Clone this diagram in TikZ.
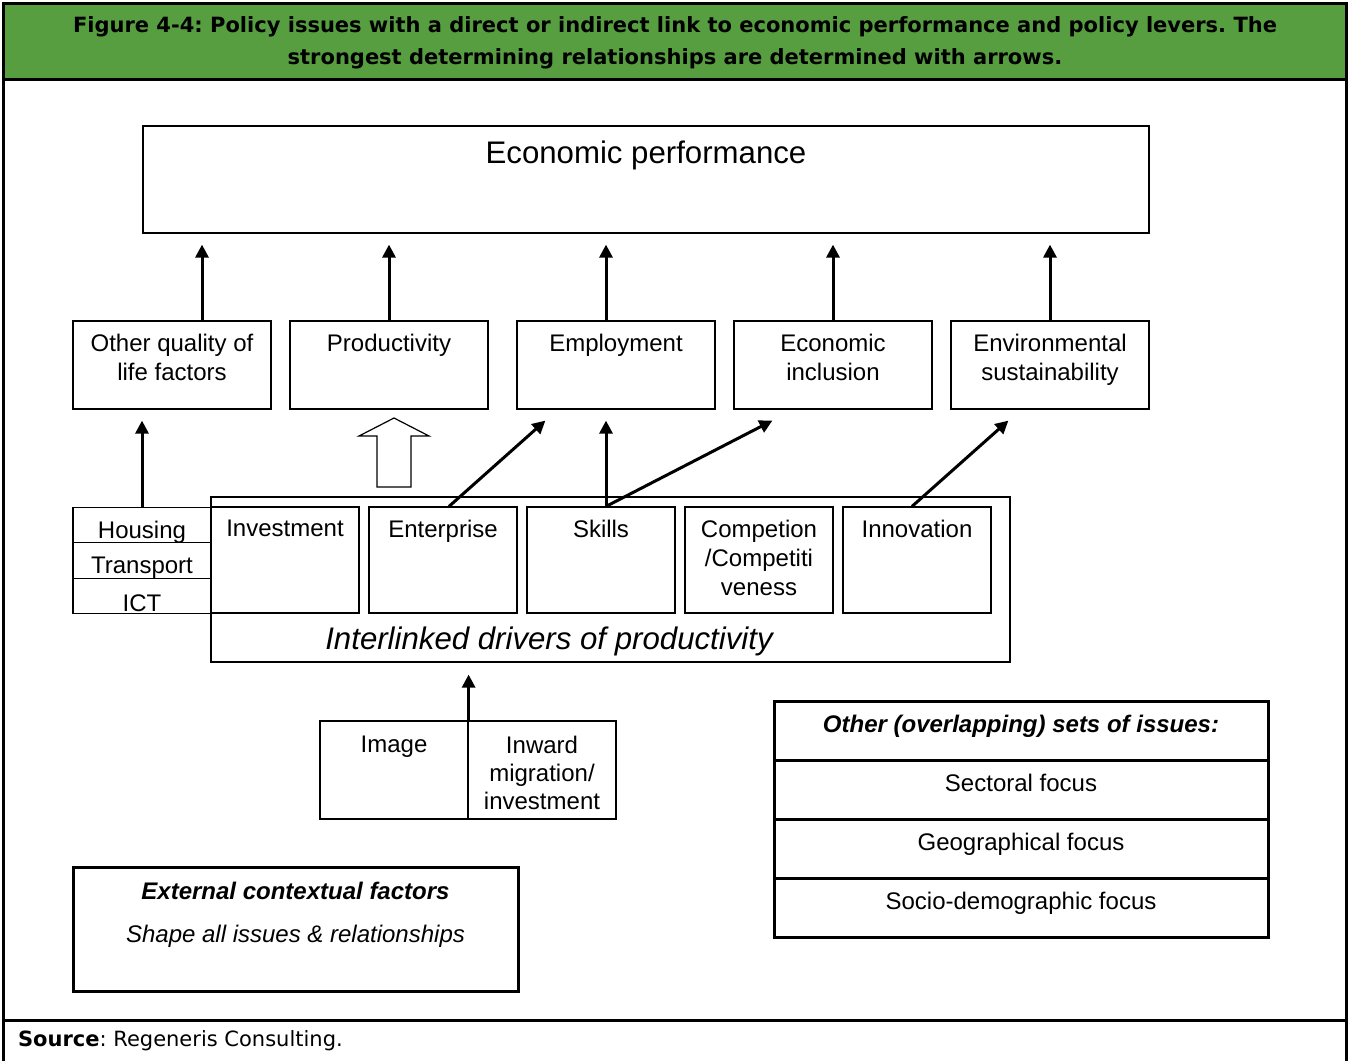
\documentclass[tikz,border=0pt]{standalone}
\usepackage{fontspec}
\setmainfont{Liberation Sans}
\newfontfamily\captionfont{DejaVu Sans}
\usetikzlibrary{arrows.meta}
\definecolor{captiongreen}{RGB}{86,158,64}
\frenchspacing

\begin{document}
\begin{tikzpicture}[x=0.5pt, y=-0.5pt,
  font=\fontsize{12}{14.5}\selectfont,
  box/.style={draw, line width=0.6pt, inner sep=0pt},
  issue/.style={box, minimum width=99pt, minimum height=44pt},
  driver/.style={box, minimum width=74pt, minimum height=53pt},
  cell/.style={box, minimum width=69pt, minimum height=17.67pt},
  heavybox/.style={draw, line width=1.5pt, inner sep=0pt, minimum width=247pt, minimum height=29.5pt},
  toptext/.style={anchor=north, inner sep=0pt, align=center, font=\fontsize{12}{14.5}\selectfont},
  celltext/.style={anchor=base, inner sep=0pt, yshift=-3.5pt},
  uparrow/.style={line width=1.5pt, -{Triangle[width=6.5pt,length=6.5pt]}}]

  \useasboundingbox (0,0) rectangle (1348,1061);
  % Frame and caption
  \fill[captiongreen] (3,3) rectangle (1346,79);
  \draw[line width=1.8pt] (3.5,1061) -- (3.5,3.5) -- (1346.5,3.5) -- (1346.5,1061);
  \draw[line width=1.8pt] (3.5,79.5) -- (1346.5,79.5);
  \draw[line width=1.8pt] (3.5,1020.5) -- (1346.5,1020.5);
  \node[align=center, font=\captionfont\bfseries\fontsize{10.5}{16}\selectfont] (caption) at (675,43)
    {Figure 4-4: Policy issues with a direct or indirect link to economic performance and policy levers. The\\
     strongest determining relationships are determined with arrows.};
  \node[anchor=west, font=\captionfont\fontsize{10.5}{12}\selectfont] (source) at (11,1041)
    {\textbf{Source}: Regeneris Consulting.};

  % Economic performance
  \node[box, minimum width=503pt, minimum height=53.5pt,
    label={[toptext, yshift=-7.5pt, font=\fontsize{15.6}{18}\selectfont]north:Economic performance}] (ecp) at (646,179.5) {};

  % Outcomes
  \node[issue, label={[toptext, yshift=-6.5pt]north:Other quality of\\life factors}] (qol) at (172,365) {};
  \node[issue, label={[toptext, yshift=-6.5pt]north:Productivity}] (prod) at (389,365) {};
  \node[issue, label={[toptext, yshift=-6.5pt]north:Employment}] (emp) at (616,365) {};
  \node[issue, label={[toptext, yshift=-6.5pt]north:Economic\\inclusion}] (inc) at (833,365) {};
  \node[issue, label={[toptext, yshift=-6.5pt]north:Environmental\\sustainability}] (env) at (1050,365) {};

  \draw[uparrow, shorten >=5.5pt] ([xshift=15pt]qol.north) -- ([xshift=15pt]qol.north |- ecp.south);
  \draw[uparrow, shorten >=5.5pt] (prod.north) -- (prod.north |- ecp.south);
  \draw[uparrow, shorten >=5.5pt] ([xshift=-5pt]emp.north) -- ([xshift=-5pt]emp.north |- ecp.south);
  \draw[uparrow, shorten >=5.5pt] (inc.north) -- (inc.north |- ecp.south);
  \draw[uparrow, shorten >=5.5pt] (env.north) -- (env.north |- ecp.south);

  % Interlinked drivers
  \node[box, minimum width=399.5pt, minimum height=82.5pt] (drivers) at (610.5,579.5) {};
  \node[font=\itshape\fontsize{15.6}{18}\selectfont] (driverstext) at (549,641) {Interlinked drivers of productivity};
  \node[driver, label={[toptext, yshift=-6.5pt]north:Investment}] (inv) at (285,560) {};
  \node[driver, label={[toptext, yshift=-6.5pt]north:Enterprise}] (ent) at (443,560) {};
  \node[driver, label={[toptext, yshift=-6.5pt]north:Skills}] (skl) at (601,560) {};
  \node[driver, label={[toptext, yshift=-6.5pt]north:Competion\\/Competiti\\veness}] (comp) at (759,560) {};
  \node[driver, label={[toptext, yshift=-6.5pt]north:Innovation}] (inn) at (917,560) {};

  % Housing, transport, ICT
  \node[cell, label={[celltext]center:Housing}] (hous) at (142,525.2) {};
  \node[cell, label={[celltext]center:Transport}] (trans) at (142,560.5) {};
  \node[cell, label={[celltext]center:ICT}] (ict) at (142,595.8) {};

  \draw[uparrow, shorten >=5.5pt] (hous.north) -- (hous.north |- qol.south);
  \draw[line width=0.6pt] (377,487) -- (377,436) -- (359,436) -- (394,418)
    -- (429,436) -- (411,436) -- (411,487) -- cycle;
  \draw[uparrow] ([xshift=3pt]ent.north) -- ([xshift=14.5pt, yshift=-5.5pt]emp.south west);
  \draw[uparrow, shorten >=5.5pt] ([xshift=2.5pt]skl.north) -- ([xshift=2.5pt]skl.north |- emp.south);
  \draw[uparrow] ([xshift=2.5pt]skl.north) -- ([xshift=19.5pt, yshift=-5.5pt]inc.south west);
  \draw[uparrow] ([xshift=-2.5pt]inn.north) -- ([xshift=29pt, yshift=-5.5pt]env.south west);

  % Image and inward migration
  \node[box, minimum width=74pt, minimum height=49pt,
    label={[toptext, yshift=-7.5pt, font=\fontsize{12}{14}\selectfont]north:Image}] (img) at (394,770) {};
  \node[box, minimum width=74pt, minimum height=49pt,
    label={[toptext, yshift=-7.5pt, font=\fontsize{12}{14}\selectfont]north:Inward\\migration/\\investment}] (inw) at (542,770) {};
  \draw[uparrow, shorten >=6pt] (img.north east) -- (img.north east |- drivers.south);

  % Other sets of issues
  \node[heavybox, label={[toptext, yshift=-7.5pt, font=\bfseries\itshape\fontsize{12}{14.5}\selectfont]north:{Other (overlapping) sets of issues:}}] (sets) at (1021,730.5) {};
  \node[heavybox, label={[toptext, yshift=-7.5pt]north:Sectoral focus}] (sect) at (1021,789.5) {};
  \node[heavybox, label={[toptext, yshift=-7.5pt]north:Geographical focus}] (geo) at (1021,848.5) {};
  \node[heavybox, label={[toptext, yshift=-7.5pt]north:Socio-demographic focus}] (socio) at (1021,907.5) {};

  % External factors
  \node[heavybox, minimum width=222.5pt, minimum height=62pt,
    label={[toptext, yshift=-8pt, font=\fontsize{12}{21.5}\selectfont]north:\textbf{\textit{External contextual factors}}\\\textit{Shape all issues \& relationships}}] (ext) at (295.5,929) {};
\end{tikzpicture}
\end{document}
